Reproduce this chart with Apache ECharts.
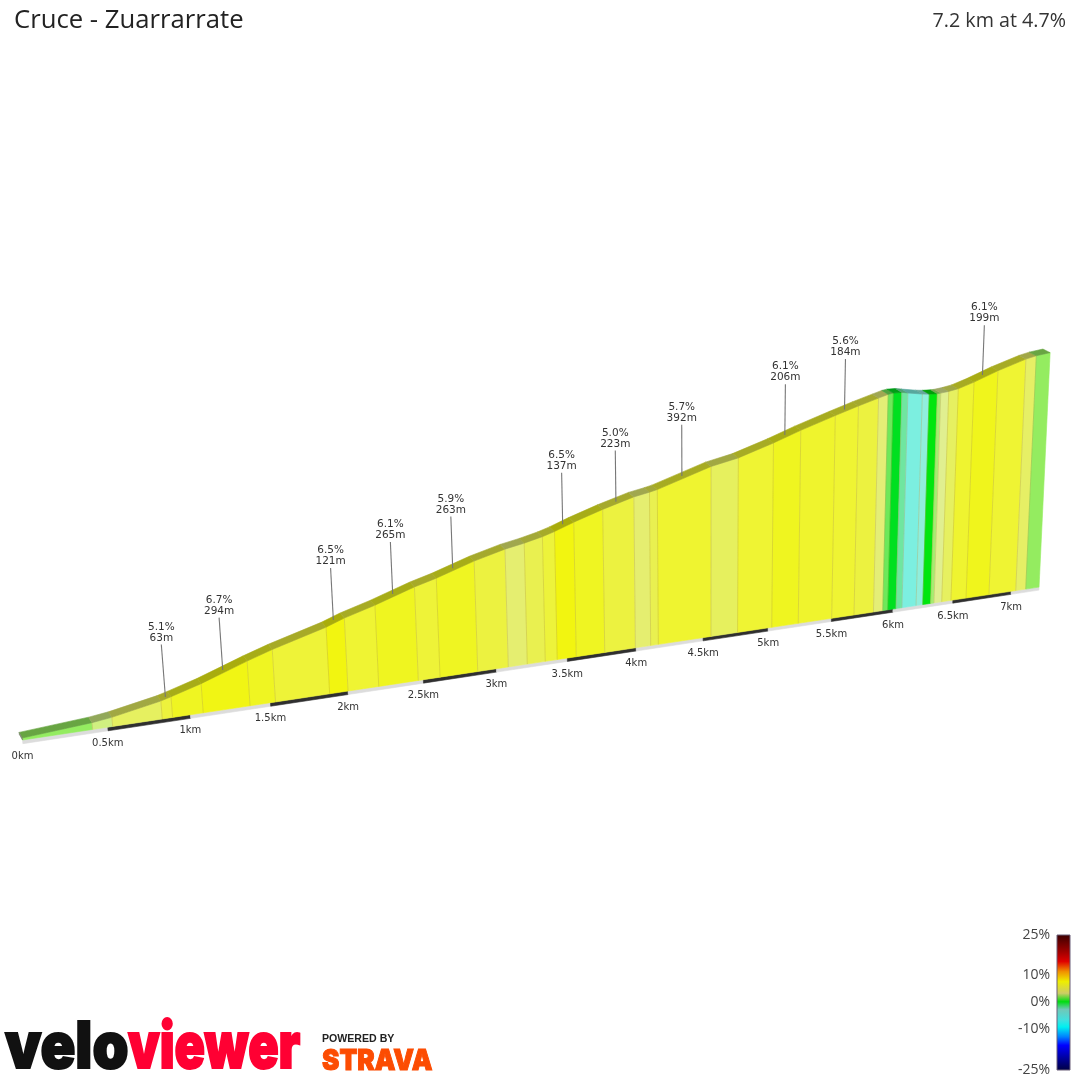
<!DOCTYPE html>
<html><head><meta charset="utf-8">
<style>html,body{margin:0;padding:0;background:#fff}#c{width:1080px;height:1080px}</style>
<script src="https://cdn.jsdelivr.net/npm/echarts@6/dist/echarts.min.js"></script>
</head><body><div id="c"></div>
<script>
// ---- Data ----
const titleText = 'Cruce - Zuarrarrate';
const summaryText = '7.2 km at 4.7%';
// segment boundaries: distance (km)
const boundaryKm = [0,.41,.529,.828,.891,1.079,1.371,1.532,1.88,2.0,2.202,2.466,2.613,2.871,3.083,3.216,3.343,3.428,3.564,3.77,3.994,4.107,4.164,4.56,4.763,5.028,5.236,5.502,5.682,5.84,5.916,5.957,6.025,6.074,6.191,6.247,6.313,6.341,6.406,6.484,6.612,6.808,7.04,7.127,7.244];
// height above the base at those boundaries (m)
const boundaryElev = [2.4,8.2,11.1,22.0,25.3,35.8,55.2,65,83.2,91.3,102.1,118.2,125.5,140.8,150.8,155.3,160.6,165.2,174,185.8,197,200.6,202.8,224.5,231.6,245.9,258.5,273,282.4,290,293.6,294.6,294.4,292.8,289.4,288.3,287.8,288.1,289.3,291.6,298.3,310.4,322.4,325.6,328];
// gradient of each segment (%), estimated from its colour
const segmentGrade = [1,2,3.3,4.6,5.6,6.3,5.6,4.8,6.5,5,5.7,4.8,5.6,4.5,3,4,4.7,6.5,5.6,4.5,3,4,5.1,3.4,5,5.7,5.2,5,4.5,2.9,.7,.1,-.5,-1.3,-.9,0,1.3,2.5,3.3,5.1,5.9,5,3.2,1];
// callouts
const calloutKm = [.857,1.217,1.929,2.321,2.725,3.486,3.865,4.344,5.114,5.573,6.68];
const calloutElev = [26,48.6,90.7,113,135.2,173,193.5,216.6,254.6,279.6,306.7];
const calloutGrade = ['5.1%','6.7%','6.5%','6.1%','5.9%','6.5%','5.0%','5.7%','6.1%','5.6%','6.1%'];
const calloutLength = ['63m','294m','121m','265m','263m','137m','223m','392m','206m','184m','199m'];
// distance ticks
const tickKm = [0,.5,1,1.5,2,2.5,3,3.5,4,4.5,5,5.5,6,6.5,7];
const tickLabels = ['0km','0.5km','1km','1.5km','2km','2.5km','3km','3.5km','4km','4.5km','5km','5.5km','6km','6.5km','7km'];
const routeEndKm = 7.244;
// colour scale
const scaleTicks = [-25,-10,0,10,25];

// ---- Perspective of the 3D ribbon, onto a hidden plane axis ----
const P = {a:174.1,e:22.5,c:.0325,g:-2.03,y0:740,d:-.000121,b:-.0854,f:-.9257};
function project(km,h,depth){
  const w = 1+P.c*km+P.d*h;
  const x = (P.a*km+P.b*h+P.e)/w, y = (P.g*km+P.f*h+P.y0)/w;
  const z = depth||0;
  return [x+z*(-3.2-.55*km), y+z*(-5.6+.28*km)];
}
const rampStops = [[-1.3,'#7cefe0'],[-.9,'#90eedc'],[-.5,'#6fe6a0'],[0,'#00e60e'],[.1,'#00e020'],[.7,'#6ee85a'],[1,'#94ec60'],[1.3,'#a5ee70'],[2,'#d0f080'],[2.5,'#e0ef90'],[3,'#e5ee70'],[3.3,'#e6f060'],[4,'#e9f050'],[4.5,'#ecf240'],[5,'#eff433'],[5.6,'#eff522'],[6.5,'#f2f510']];
function hex(c){return [1,3,5].map(i=>parseInt(c.substr(i,2),16));}
function gradeRgb(g){
  let s=rampStops;
  if(g<=s[0][0])return hex(s[0][1]);
  for(let i=1;i<s.length;i++){ if(g<=s[i][0]){
    const t=(g-s[i-1][0])/(s[i][0]-s[i-1][0]),A=hex(s[i-1][1]),B=hex(s[i][1]);
    return A.map((v,j)=>Math.round(v+(B[j]-v)*t));
  }}
  return hex(s[s.length-1][1]);
}
const css=(c,m)=>'rgb('+c.map(v=>Math.round(v*m)).join(',')+')';

const segments = segmentGrade.map((g,i)=>[boundaryKm[i],boundaryKm[i+1],boundaryElev[i],boundaryElev[i+1],g]);
const poleM = km => 63*(1+.008*km);
const SANS = '"DejaVu Sans"';

function poly(api,pts,fill,stroke){
  return {type:'polygon',shape:{points:pts.map(p=>api.coord(project(p[0],p[1],p[2])))},
    style:{fill:fill,stroke:stroke||fill,lineWidth:.6}};
}
const stripData = tickKm.map((k,i)=>[k, i+1<tickKm.length?tickKm[i+1]:routeEndKm, i%2]);

const bar = [
 [0,'#3a0000'],[.136,'#a80000'],[.198,'#e00000'],[.272,'#f09000'],[.346,'#eeee00'],[.432,'#cccc66'],[.494,'#00dd10'],
 [.551,'#70c8b8'],[.63,'#40e0e0'],[.68,'#00f0f0'],[.753,'#0080ff'],[.815,'#0000ff'],[1,'#000040']
].map(s=>({offset:s[0],color:s[1]}));

const option = {
  animation:false,
  grid:[{left:0,top:0,right:0,bottom:0},{left:1057,top:935,width:13,height:135}],
  xAxis:[{type:'value',min:0,max:1080,show:false,gridIndex:0},{type:'value',min:0,max:1,show:false,gridIndex:1}],
  yAxis:[{type:'value',min:0,max:1080,inverse:true,show:false,gridIndex:0},
    {type:'value',min:-25,max:25,gridIndex:1,position:'left',splitLine:{show:false},axisLine:{show:false},axisTick:{show:false},
     axisLabel:{customValues:scaleTicks,formatter:v=>v+'%',color:'#444',fontFamily:'"Open Sans"',fontSize:14,margin:7}}],
  series:[
   {type:'custom',xAxisIndex:0,yAxisIndex:0,silent:true,clip:false,z:1,data:stripData,
    renderItem:(p,api)=>{
      const k0=api.value(0),k1=api.value(1),dark=api.value(2);
      return poly(api,[[k0,0],[k1,0],[k1,-4.4],[k0,-4.4]],dark?'#2f2f2f':'#dcdcdc');
    }},
   {type:'custom',xAxisIndex:0,yAxisIndex:0,silent:true,clip:false,z:2,data:segments,
    renderItem:(p,api)=>{
      const k0=api.value(0),k1=api.value(1),h0=api.value(2),h1=api.value(3),rgb=gradeRgb(api.value(4));
      const kids=[
        poly(api,[[k0,0],[k1,0],[k1,h1],[k0,h0]],css(rgb,1)),
        poly(api,[[k0,h0,0],[k1,h1,0],[k1,h1,1],[k0,h0,1]],css(rgb,.7))
      ];
      if(p.dataIndex===0) kids.push(poly(api,[[k0,h0,1],[k0,h0,0],[k0,0,0],[k0,0,1]],'#7d8a70'));
      if(p.dataIndex>0) kids.push({type:'line',shape:{x1:api.coord(project(k0,0))[0],y1:api.coord(project(k0,0))[1],
        x2:api.coord(project(k0,h0))[0],y2:api.coord(project(k0,h0))[1]},style:{stroke:'rgba(170,150,60,.3)',lineWidth:1}});
      return {type:'group',children:kids};
    }},
   {type:'custom',xAxisIndex:0,yAxisIndex:0,silent:true,clip:false,z:3,data:calloutKm.map((k,i)=>[k,calloutElev[i]]),
    renderItem:(p,api)=>{
      const k=api.value(0),h=api.value(1),A=api.coord(project(k,h)),B=api.coord(project(k,h+poleM(k)));
      return {type:'group',children:[
        {type:'line',shape:{x1:A[0],y1:A[1],x2:B[0],y2:B[1]},style:{stroke:'#777',lineWidth:1.1}},
        {type:'text',x:B[0],y:B[1]-17.5,style:{text:calloutGrade[p.dataIndex],fill:'#333',font:'10.5px '+SANS,align:'center',verticalAlign:'middle'}},
        {type:'text',x:B[0],y:B[1]-6.5,style:{text:calloutLength[p.dataIndex],fill:'#333',font:'10.5px '+SANS,align:'center',verticalAlign:'middle'}}
      ]};
    }},
   {type:'custom',xAxisIndex:0,yAxisIndex:0,silent:true,clip:false,z:3,data:tickKm.map(k=>[k,0]),
    renderItem:(p,api)=>{
      const A=api.coord(project(api.value(0),0));
      return {type:'text',x:A[0],y:A[1]+16,style:{text:tickLabels[p.dataIndex],fill:'#333',font:'10px '+SANS,align:'center',verticalAlign:'middle'}};
    }},
   {type:'custom',xAxisIndex:1,yAxisIndex:1,silent:true,z:3,data:[[0,1,-25,25]],
    renderItem:(p,api)=>{
      const A=api.coord([api.value(0),api.value(3)]),B=api.coord([api.value(1),api.value(2)]);
      return {type:'rect',shape:{x:A[0],y:A[1],width:B[0]-A[0],height:B[1]-A[1]},
        style:{stroke:'#6a5f78',lineWidth:1,fill:new echarts.graphic.LinearGradient(0,0,0,1,bar)}};
    }}
  ],
  graphic:[
   {type:'text',x:14,y:21,style:{text:titleText,fill:'#222',font:'25.7px "Open Sans"',verticalAlign:'middle'}},
   {type:'text',x:1066,y:21,style:{text:summaryText,fill:'#333',font:'19.7px "Open Sans"',align:'right',verticalAlign:'middle'}},
   {type:'text',x:5,y:1049,scaleX:.9,style:{text:'velo',fill:'#111',stroke:'#111',lineWidth:2,font:'900 64px Inter',verticalAlign:'middle'}},
   {type:'text',x:128,y:1049,scaleX:.785,style:{text:'viewer',fill:'#ff0033',stroke:'#ff0033',lineWidth:2,font:'900 64px Inter',verticalAlign:'middle'}},
   {type:'text',x:322,y:1039,style:{text:'POWERED BY',fill:'#222',font:'bold 10.6px "Liberation Sans"',verticalAlign:'middle'}},
   {type:'text',x:322,y:1061,scaleX:.9,style:{text:'STRAVA',fill:'#fc4c02',stroke:'#fc4c02',lineWidth:1,font:'900 29px Inter',verticalAlign:'middle'}}
  ]
};
const chart = echarts.init(document.getElementById('c'),null,{renderer:'canvas'});
chart.setOption(option);
</script></body></html>
